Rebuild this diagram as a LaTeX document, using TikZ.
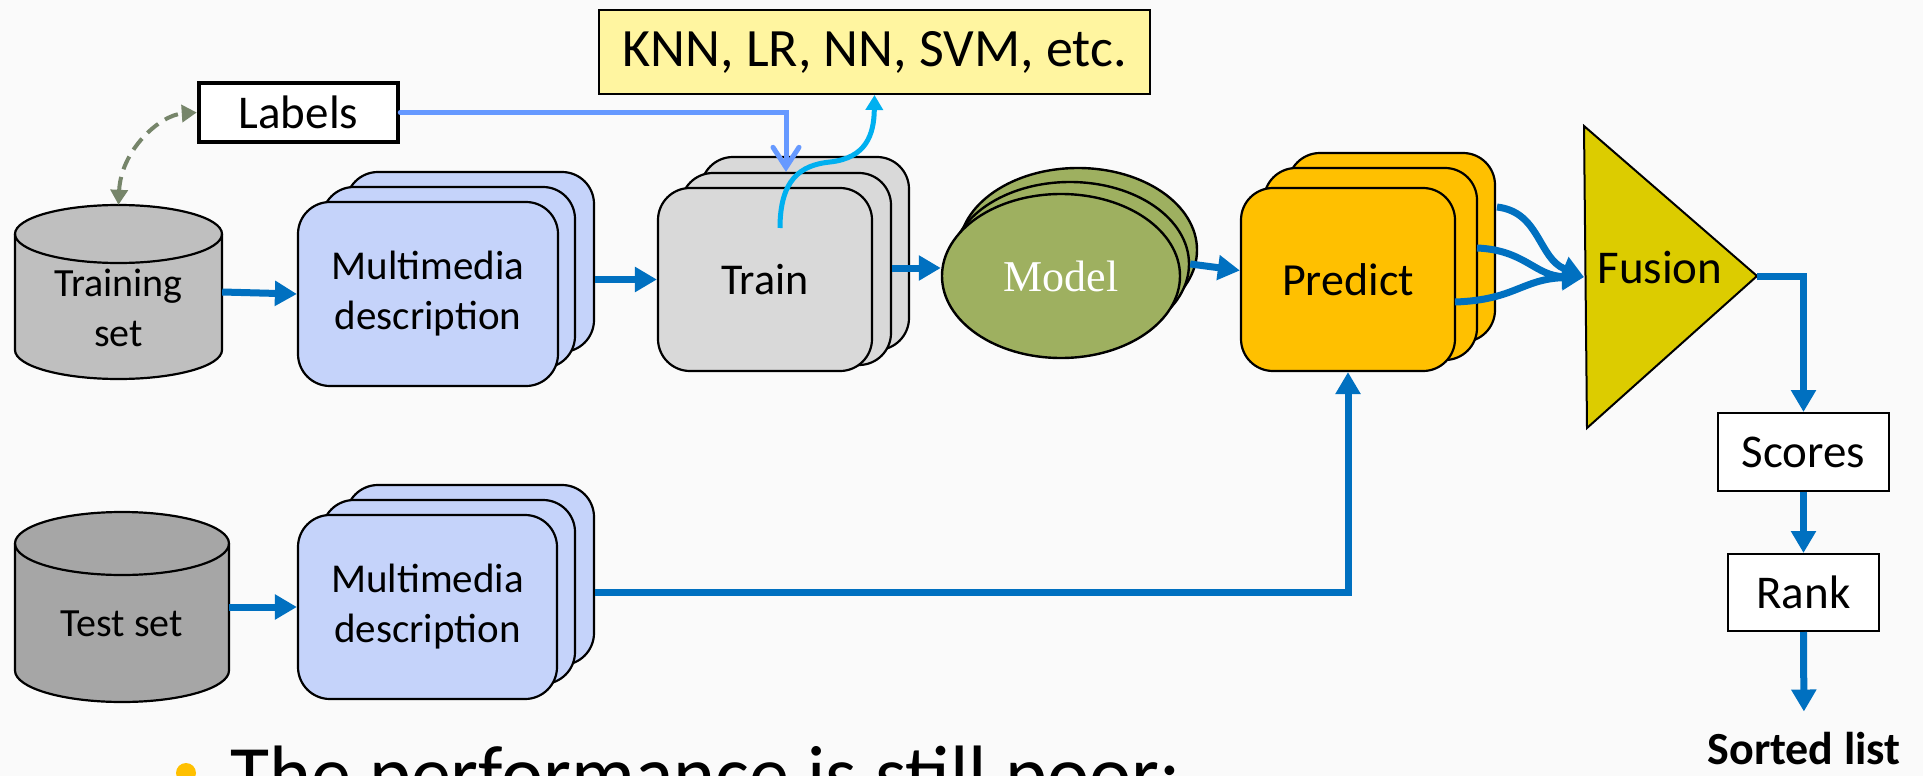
\documentclass[tikz,border=0pt]{standalone}
\usepackage{fontspec}
\setmainfont{Carlito}
\newfontfamily\modelfont{Liberation Serif}
\usetikzlibrary{arrows.meta,shapes.geometric,calc}

\definecolor{bgc}{HTML}{FAFAFA}
\definecolor{flow}{HTML}{0070C0}
\definecolor{lblue}{HTML}{6699FF}
\definecolor{cyanarr}{HTML}{00B0F0}
\definecolor{dashgreen}{HTML}{76856A}
\definecolor{mmfill}{HTML}{C5D3FA}
\definecolor{trfill}{HTML}{D9D9D9}
\definecolor{modfill}{HTML}{9EB060}
\definecolor{prfill}{HTML}{FFC000}
\definecolor{fusfill}{HTML}{DCCC00}
\definecolor{knnfill}{HTML}{FFF5A0}
\definecolor{trsetfill}{HTML}{BFBFBF}
\definecolor{tesetfill}{HTML}{A6A6A6}

\tikzset{
  card/.style={draw=black, line width=2.2pt, rounded corners=32pt, inner sep=0pt},
  mmcard/.style={card, fill=mmfill, minimum width=#1},
  modell/.style={ellipse, draw=black, line width=2.4pt, fill=modfill, inner sep=0pt,
                 minimum width=238pt, minimum height=164pt},
  plainbox/.style={draw=black, line width=2.2pt, fill=white, inner sep=0pt},
  flowarrow/.style={draw=flow, line width=7pt, -{Triangle[length=22pt,width=24pt]}},
  labelarrow/.style={draw=lblue, line width=5pt, line cap=round,
                     -{Straight Barb[length=20pt,width=26pt,line cap=round]}},
  cyanarrow/.style={draw=cyanarr, line width=5pt, -{Triangle[length=15pt,width=17pt]}},
  linkdash/.style={draw=dashgreen, line width=4pt, dash pattern=on 14pt off 8pt,
                   {Triangle[length=15pt,width=17pt]}-{Triangle[length=15pt,width=17pt]}},
  txt/.style={inner sep=0pt, align=center},
}

\begin{document}
\begin{tikzpicture}[x=1pt,y=-1pt]
\useasboundingbox (0,0) rectangle (1923,776);
\clip (0,0) rectangle (1923,776);
\fill[bgc] (0,0) rectangle (1923,776);

% ---------- training database (cylinder) ----------
\filldraw[fill=trsetfill, line width=2.2pt]
  (15,234) -- (15,350) arc[start angle=180,end angle=360,x radius=103.5pt,y radius=29pt]
  -- (222,234) arc[start angle=0,end angle=180,x radius=103.5pt,y radius=29pt] -- cycle;
\draw[line width=2.2pt] (15,234) arc[start angle=180,end angle=360,x radius=103.5pt,y radius=29pt];
\node[inner sep=0pt, minimum width=207pt, minimum height=174pt] (trset) at (118.5,292) {};
\node[txt, font=\fontsize{40pt}{50pt}\selectfont] (trsettext) at (118.5,308) {Training\\set};

% ---------- test database (cylinder) ----------
\filldraw[fill=tesetfill, line width=2.2pt]
  (15,543.5) -- (15,670.5) arc[start angle=180,end angle=360,x radius=107pt,y radius=31.5pt]
  -- (229,543.5) arc[start angle=0,end angle=180,x radius=107pt,y radius=31.5pt] -- cycle;
\draw[line width=2.2pt] (15,543.5) arc[start angle=180,end angle=360,x radius=107pt,y radius=31.5pt];
\node[inner sep=0pt, minimum width=214pt, minimum height=190pt] (teset) at (122,607) {};
\node[txt, font=\fontsize{40pt}{50pt}\selectfont] (tesettext) at (122,624) {Test set};

% ---------- multimedia description stacks ----------
\node[mmcard=248pt, minimum height=180pt] (mmA3) at (470,262) {};
\node[mmcard=253pt, minimum height=181pt] (mmA2) at (448.5,277.5) {};
\node[mmcard=260pt, minimum height=184pt, txt, font=\fontsize{41pt}{50pt}\selectfont]
  (mmA1) at (428,294) {Multimedia\\description};

\node[mmcard=248pt, minimum height=180pt] (mmB3) at (470,575) {};
\node[mmcard=253pt, minimum height=184pt] (mmB2) at (448.5,592) {};
\node[mmcard=259pt, minimum height=184pt, txt, font=\fontsize{41pt}{50pt}\selectfont]
  (mmB1) at (427.5,607) {Multimedia\\description};

% ---------- train stack ----------
\node[card, fill=trfill, minimum width=208pt, minimum height=193pt] (trB) at (805,253.5) {};
\node[card, fill=trfill, minimum width=210pt, minimum height=192pt] (trM) at (786,269) {};
\node[card, fill=trfill, minimum width=214pt, minimum height=183pt,
      font=\fontsize{44pt}{50pt}\selectfont] (trF) at (765,279.5) {Train};

% ---------- model stack ----------
\node[modell] (modB) at (1078,250) {};
\node[modell] (modM) at (1070,264) {};
\node[modell, font=\modelfont\fontsize{44pt}{50pt}\selectfont, text=white] (modF) at (1061,276) {Model};

% ---------- predict stack ----------
\node[card, fill=prfill, minimum width=207pt, minimum height=189pt] (prB) at (1391.5,247.5) {};
\node[card, fill=prfill, minimum width=213pt, minimum height=192pt] (prM) at (1370.5,264) {};
\node[card, fill=prfill, minimum width=214pt, minimum height=183pt,
      font=\fontsize{46pt}{50pt}\selectfont] (prF) at (1348,279.5) {Predict};

% ---------- classifier list and labels ----------
\node[plainbox, fill=knnfill, line width=2pt, minimum width=551pt, minimum height=84pt,
      font=\fontsize{54pt}{60pt}\selectfont] (knn) at (874.5,52) {KNN, LR, NN, SVM, etc.};
\node[plainbox, line width=4.5pt, minimum width=199pt, minimum height=59pt,
      font=\fontsize{47pt}{50pt}\selectfont] (labels) at (298.5,112.5) {Labels};

% ---------- fusion ----------
\coordinate (fusA) at (1584,126);
\coordinate (fusB) at (1587,428);
\coordinate (fusTip) at (1757,276);
\coordinate (fusIn) at (1584,277);
\filldraw[fill=fusfill, line width=2pt, line join=miter] (fusA) -- (fusTip) -- (fusB) -- cycle;
\node[anchor=base, inner sep=0pt, font=\fontsize{47pt}{50pt}\selectfont] (fusion) at (1660,283) {Fusion};

% ---------- scores, rank, output ----------
\node[plainbox, line width=2pt, minimum width=171pt, minimum height=78pt,
      font=\fontsize{47pt}{50pt}\selectfont] (scores) at (1803.5,452) {Scores};
\node[plainbox, line width=2pt, minimum width=151pt, minimum height=77pt,
      font=\fontsize{47pt}{50pt}\selectfont] (rank) at (1803.5,592.5) {Rank};
\node[anchor=base, inner sep=0pt, font=\bfseries\fontsize{46pt}{50pt}\selectfont] (sorted) at (1804,764) {Sorted list};

% ---------- bullet line ----------
\node[circle, fill=prfill, minimum size=20pt, inner sep=0pt] (bullet) at (186,773) {};
\node[anchor=base west, inner sep=0pt, font=\fontsize{80pt}{90pt}\selectfont] (perf) at (230,801)
  {The performance is still poor:};

% ---------- connectors ----------
\draw[linkdash] (trset.north) .. controls (121,150) and (160,115) .. (labels.west);
\draw[labelarrow] (labels.east) -| (trM.north);
\coordinate (cyStart) at (780,228);
\draw[cyanarrow] (cyStart) .. controls (780,180) and (800,165) .. (830,162)
  .. controls (866,158) and (874,135) .. (knn.south);

\draw[flowarrow] (trset.east) -- (mmA1.west);
\draw[flowarrow] (mmA3.east |- trF.west) -- (trF.west);
\draw[flowarrow] (trM.east |- 0,268) -- (modF.west |- 0,268);
\draw[flowarrow] (modM.east) -- ($(prF.west)+(0,-9)$);

\draw[flowarrow] (teset.east) -- (mmB1.west);
\coordinate (bend) at (1348,592);
\draw[flowarrow] (mmB3.east |- bend) -- (bend) -- (prF.south);

\coordinate (o1) at (1497,207);
\coordinate (o2) at (1477,248);
\coordinate (o3) at (1455,302);
\draw[flowarrow] (o1) .. controls (1540,212) and (1538,258) .. (fusIn);
\draw[flowarrow] (o2) .. controls (1525,250) and (1535,276) .. (fusIn);
\draw[flowarrow] (o3) .. controls (1515,300) and (1522,279) .. (fusIn);

\draw[flowarrow] (fusTip) -| (scores.north);
\draw[flowarrow] (scores.south) -- (rank.north);
\draw[flowarrow, shorten >=20pt] (rank.south) -- (sorted.north);
\end{tikzpicture}
\end{document}
